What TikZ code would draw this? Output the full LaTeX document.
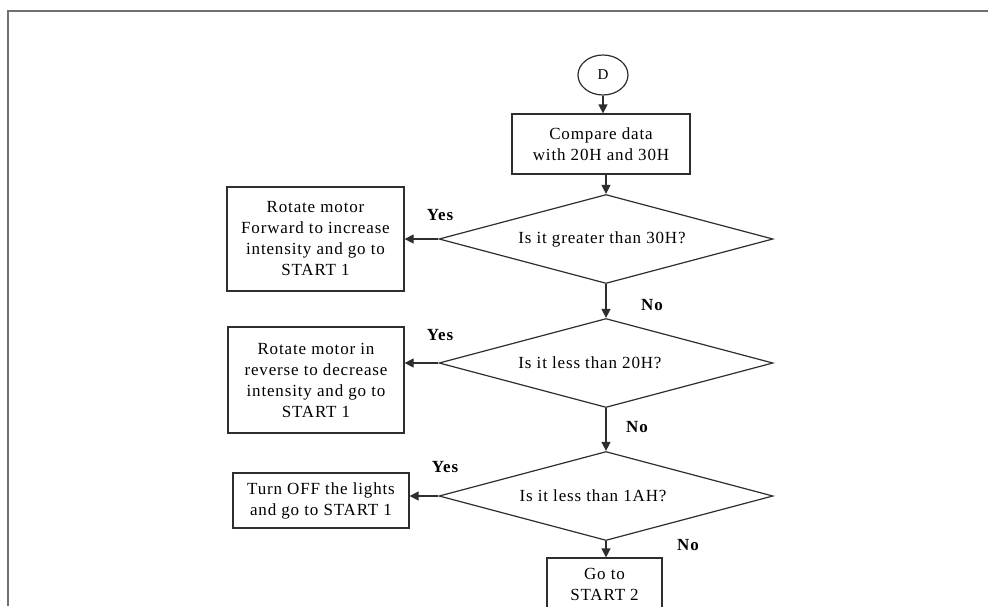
\documentclass[tikz,border=0pt]{standalone}
\usepackage{fontspec}
\setmainfont{Liberation Serif}[LetterSpace=5]
\usetikzlibrary{shapes.geometric,arrows.meta}
\definecolor{linec}{HTML}{2E2E2E}
\definecolor{framec}{HTML}{707070}
\begin{document}
\begin{tikzpicture}[x=1pt,y=-1pt,
  font=\fontsize{17}{21}\selectfont,
  box/.style={draw=linec, line width=1.2pt, fill=white, align=center, inner sep=0pt},
  dec/.style={draw=linec, line width=1.2pt, shape=diamond, aspect=3.75, inner sep=0pt,
              minimum width=334pt, minimum height=89pt},
  arr/.style={draw=linec, line width=1.2pt, -{Triangle[length=9pt,width=9pt]}},
  lab/.style={font=\fontsize{17}{21}\selectfont\bfseries, inner sep=0pt},
]
\useasboundingbox (0,0) rectangle (988,606);
\clip (0,0) rectangle (988,606);
\fill[white] (0,0) rectangle (988,606);
% frame
\draw[framec, line width=2pt] (988,11) -- (7.5,11) -- (7.5,606);

% nodes
\node[draw=linec, line width=1.2pt, shape=ellipse, minimum width=50pt, minimum height=40pt, inner sep=0pt]
  (D) at (603,75) {\fontsize{15}{18}\selectfont D};
\node[box, minimum width=178pt, minimum height=60pt] (cmp) at (601,144) {Compare data\\with 20H and 30H};

\node[dec] (d1) at (606,239) {\hspace*{-8pt}Is it greater than 30H?};
\node[dec] (d2) at (606,363) {\hspace*{-32pt}Is it less than 20H?};
\node[dec] (d3) at (606,496) {\hspace*{-26pt}Is it less than 1AH?};

\node[box, minimum width=177pt, minimum height=104pt] (b1) at (315.5,239)
  {Rotate motor\\Forward to increase\\intensity and go to\\START 1};
\node[box, minimum width=176pt, minimum height=106pt] (b2) at (316,380)
  {Rotate motor in\\reverse to decrease\\intensity and go to\\START 1};
\node[box, minimum width=176pt, minimum height=55pt] (b3) at (321,500.5)
  {Turn OFF the lights\\and go to START 1};
\node[box, minimum width=115pt, minimum height=52pt] (b4) at (604.5,584)
  {Go to\\START 2};

% connectors
\draw[arr] (D.south) -- (D.south |- cmp.north);
\draw[arr] (cmp.south -| d1.north) -- (d1.north);
\draw[arr] (d1.west) -- (d1.west -| b1.east);
\draw[arr] (d1.south) -- (d2.north);
\draw[arr] (d2.west) -- (d2.west -| b2.east);
\draw[arr] (d2.south) -- (d3.north);
\draw[arr] (d3.west) -- (d3.west -| b3.east);
\draw[arr] (d3.south) -- (d3.south |- b4.north);

% labels
\node[lab] (y1) at (440,215) {Yes};
\node[lab] (n1) at (652,305) {No};
\node[lab] (y2) at (440,335) {Yes};
\node[lab] (n2) at (637,427) {No};
\node[lab] (y3) at (445,467) {Yes};
\node[lab] (n3) at (688,545) {No};
\end{tikzpicture}
\end{document}
